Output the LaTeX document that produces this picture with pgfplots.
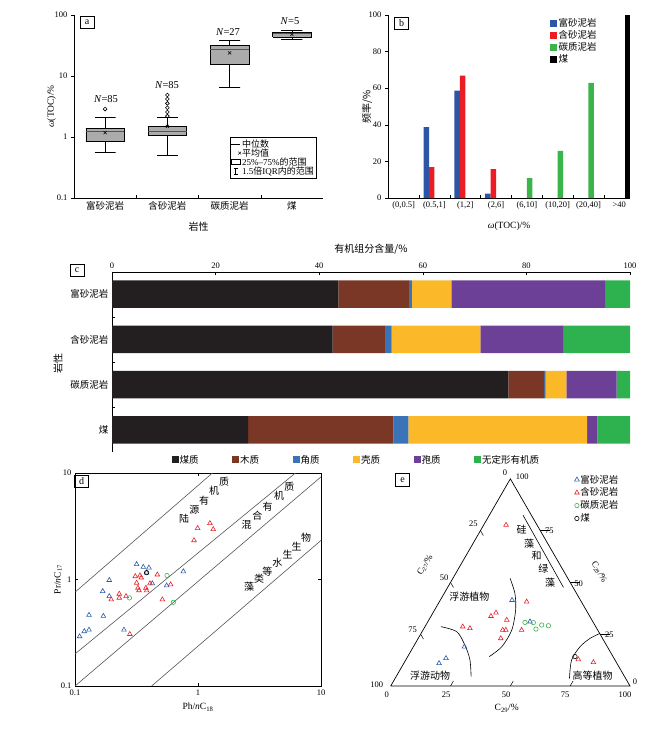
\documentclass[border=0pt]{standalone}
\usepackage{fontspec}
\setmainfont{Liberation Serif}
\newfontfamily\cjk{Noto Sans CJK SC}
\newcommand\zh[1]{{\cjk #1}}
\usepackage{pgfplots}
\pgfplotsset{compat=1.18}
\definecolor{cBlue}{HTML}{2D55A5}
\definecolor{cRed}{HTML}{EC1C24}
\definecolor{cGreen}{HTML}{3BB54A}
\definecolor{mBlack}{HTML}{231F20}
\definecolor{mBrown}{HTML}{7A3726}
\definecolor{mBlue}{HTML}{3B73B9}
\definecolor{mYellow}{HTML}{FBB829}
\definecolor{mPurple}{HTML}{6D4098}
\definecolor{mGreen}{HTML}{2EB24F}
\definecolor{boxGray}{HTML}{ABABAB}
\definecolor{lineGray}{HTML}{555555}
\definecolor{pBlue}{HTML}{2A5CAA}
\definecolor{pRed}{HTML}{E8212B}
\definecolor{pGreen}{HTML}{3DB54A}
\pgfplotsset{
  /pgf/number format/assume math mode=true,
  every axis/.append style={font=\fontsize{8.5}{10}\selectfont, scale only axis, anchor=south west},
  sqlegend/.style={legend image code/.code={\fill[##1] (0pt,-3.5pt) rectangle (7pt,3.5pt);}},
}
\begin{document}
\begin{tikzpicture}
\useasboundingbox (0pt,0pt) rectangle (650pt,-730pt);

% ================= Panel a =================
\begin{axis}[
  at={(74pt,-198pt)}, width=249pt, height=183pt,
  ymode=log, ymin=0.1, ymax=100, xmin=-0.5, xmax=3.5,
  axis lines=left, axis line style={-, line width=0.6pt},
  ytick={0.1,1,10,100}, yticklabels={0.1,1,10,100}, yminorticks=false,
  xtick={0.5,1.5,2.5}, xticklabels={},
  extra x ticks={0,1,2,3},
  extra x tick labels={\zh{富砂泥岩},\zh{含砂泥岩},\zh{碳质泥岩},\zh{煤}},
  extra x tick style={major tick length=0pt, xticklabel style={font=\fontsize{9.5}{11}\selectfont}},
  tick align=outside, major tick length=3pt, tick style={black, line width=0.5pt},
  x tick style={yshift=3pt},
  xlabel={\zh{岩性}}, xlabel style={at={(axis description cs:0.5,-0.158)}, anchor=center, font=\fontsize{10}{12}\selectfont},
  ylabel={\textit{ω}(TOC)/\%}, ylabel style={at={(axis description cs:-0.09,0.5)}, anchor=center, font=\fontsize{9.5}{11}\selectfont},
  legend style={at={(0.972,0.109)}, anchor=south east, draw=black, fill=white, font=\fontsize{9}{10}\selectfont, inner sep=1pt, row sep=-2pt, nodes={inner sep=1pt}},
  legend cell align=left,
]
\addlegendimage{legend image code/.code={\draw[black,line width=0.8pt] (0pt,0pt) -- (9pt,0pt);}}
\addlegendentry{\zh{中位数}}
\addlegendimage{only marks, mark=x, mark size=2pt, black}
\addlegendentry{\zh{平均值}}
\addlegendimage{legend image code/.code={\draw[black,fill=white,line width=0.5pt] (0pt,-2.5pt) rectangle (9pt,2.5pt);}}
\addlegendentry{25\%–75\%\zh{的范围}}
\addlegendimage{legend image code/.code={\draw[black,line width=0.5pt] (4.5pt,-3pt) -- (4.5pt,3pt) (2.5pt,-3pt) -- (6.5pt,-3pt) (2.5pt,3pt) -- (6.5pt,3pt);}}
\addlegendentry{1.5\zh{倍}IQR\zh{内的范围}}
% boxes
\addplot[forget plot, fill=boxGray, draw=black, line width=0.5pt] coordinates {(-0.31,0.85) (0.31,0.85) (0.31,1.40) (-0.31,1.40) (-0.31,0.85)};
\addplot[forget plot, fill=boxGray, draw=black, line width=0.5pt] coordinates {(0.69,1.06) (1.31,1.06) (1.31,1.50) (0.69,1.50) (0.69,1.06)};
\addplot[forget plot, fill=boxGray, draw=black, line width=0.5pt] coordinates {(1.69,15.7) (2.31,15.7) (2.31,31.6) (1.69,31.6) (1.69,15.7)};
\addplot[forget plot, fill=boxGray, draw=black, line width=0.5pt] coordinates {(2.69,43.3) (3.31,43.3) (3.31,52) (2.69,52) (2.69,43.3)};
% medians
\addplot[forget plot, lineGray, line width=0.8pt] coordinates {(-0.31,1.24) (0.31,1.24)};
\addplot[forget plot, lineGray, line width=0.8pt] coordinates {(0.69,1.22) (1.31,1.22)};
\addplot[forget plot, lineGray, line width=0.8pt] coordinates {(1.69,27.5) (2.31,27.5)};
\addplot[forget plot, lineGray, line width=0.8pt] coordinates {(2.69,50) (3.31,50)};
% whiskers
\addplot[forget plot, black, line width=0.5pt] coordinates {(-0.17,2.1) (0.17,2.1) (0,2.1) (0,1.40)};
\addplot[forget plot, black, line width=0.5pt] coordinates {(-0.17,0.56) (0.17,0.56) (0,0.56) (0,0.85)};
\addplot[forget plot, black, line width=0.5pt] coordinates {(0.83,2.1) (1.17,2.1) (1,2.1) (1,1.50)};
\addplot[forget plot, black, line width=0.5pt] coordinates {(0.83,0.51) (1.17,0.51) (1,0.51) (1,1.06)};
\addplot[forget plot, black, line width=0.5pt] coordinates {(1.83,38) (2.17,38) (2,38) (2,31.6)};
\addplot[forget plot, black, line width=0.5pt] coordinates {(1.83,6.5) (2.17,6.5) (2,6.5) (2,15.7)};
\addplot[forget plot, black, line width=0.5pt] coordinates {(2.83,57) (3.17,57) (3,57) (3,52)};
\addplot[forget plot, black, line width=0.5pt] coordinates {(2.83,40.7) (3.17,40.7) (3,40.7) (3,43.3)};
% means
\addplot[forget plot, only marks, mark=x, mark size=2.2pt, black, line width=0.6pt] coordinates {(0,1.18) (1,1.49) (2,24) (3,48)};
% outliers
\addplot[forget plot, only marks, mark=o, mark size=1.9pt, black, line width=0.6pt, mark options={fill=white}] coordinates {(0,2.87) (1,2.2) (1,2.57) (1,3.02) (1,3.56) (1,4.2) (1,4.89)};
\end{axis}
\node[draw, line width=0.6pt, inner sep=0pt, minimum width=14pt, minimum height=12pt, font=\fontsize{10}{12}\selectfont] at (87pt,-22.5pt) {a};
\begin{scope}[every node/.style={font=\fontsize{10.5}{12}\selectfont}]
\node at (106pt,-99pt) {\textit{N}=85};
\node at (167pt,-85pt) {\textit{N}=85};
\node at (228pt,-32pt) {\textit{N}=27};
\node at (290pt,-21pt) {\textit{N}=5};
\end{scope}

% ================= Panel b =================
\begin{axis}[
  at={(388pt,-198pt)}, width=242pt, height=183pt,
  xmin=-0.51, xmax=7.35, ymin=0, ymax=100,
  axis lines=left, axis line style={-, line width=0.6pt},
  ytick={0,20,40,60,80,100},
  xtick={0.5,1.5,...,6.5}, xticklabels={},
  extra x ticks={0,1,...,7},
  extra x tick labels={{(0,0.5]},{(0.5,1]},{(1,2]},{(2,6]},{(6,10]},{(10,20]},{(20,40]},{>40}},
  extra x tick style={major tick length=0pt},
  tick align=outside, major tick length=3pt, tick style={black, line width=0.5pt},
  x tick style={yshift=3pt},
  xlabel={\textit{ω}(TOC)/\%}, xlabel style={at={(axis description cs:0.5,-0.153)}, anchor=center, font=\fontsize{9.5}{11}\selectfont},
  ylabel={\zh{频率/\%}}, ylabel style={at={(axis description cs:-0.087,0.5)}, anchor=center, font=\fontsize{10}{12}\selectfont},
  legend style={at={(0.658,0.998)}, anchor=north west, draw=none, fill=none, row sep=0pt, nodes={inner sep=1.2pt}, font=\fontsize{9.5}{11}\selectfont},
  legend cell align=left,
]
\addplot[ybar, bar width=0.178, bar shift=0pt, fill=cBlue, draw=none, sqlegend] coordinates {(0.733,38.7) (1.733,58.7) (2.733,2.4)};
\addlegendentry{\zh{富砂泥岩}}
\addplot[ybar, bar width=0.178, bar shift=0pt, fill=cRed, draw=none, sqlegend] coordinates {(0.911,16.9) (1.911,66.9) (2.911,15.8)};
\addlegendentry{\zh{含砂泥岩}}
\addplot[ybar, bar width=0.178, bar shift=0pt, fill=cGreen, draw=none, sqlegend] coordinates {(4.089,10.9) (5.089,25.8) (6.089,62.9)};
\addlegendentry{\zh{碳质泥岩}}
\addplot[ybar, bar width=0.178, bar shift=0pt, fill=black, draw=none, sqlegend] coordinates {(7.267,100)};
\addlegendentry{\zh{煤}}
\end{axis}
\node[draw, line width=0.6pt, inner sep=0pt, minimum width=14pt, minimum height=12pt, font=\fontsize{10}{12}\selectfont] at (401.7pt,-23.3pt) {b};

% ================= Panel c =================
\begin{axis}[
  at={(112pt,-452pt)}, width=518pt, height=180pt,
  xbar stacked, bar width=0.61,
  xmin=0, xmax=100, ymin=-0.49, ymax=3.49,
  axis x line*=top, axis y line*=left, axis line style={-, line width=0.6pt},
  xtick={0,20,40,60,80,100},
  ytick={0.5,1.5,2.5}, yticklabels={},
  extra y ticks={0,1,2,3},
  extra y tick labels={\zh{煤},\zh{碳质泥岩},\zh{含砂泥岩},\zh{富砂泥岩}},
  extra y tick style={major tick length=0pt, yticklabel style={font=\fontsize{9.5}{11}\selectfont}},
  tick align=inside, major tick length=3pt, tick style={black, line width=0.5pt},
  xlabel={\zh{有机组分含量/\%}}, xlabel style={at={(axis description cs:0.5,1.128)}, anchor=center, font=\fontsize{10}{12}\selectfont},
  ylabel={\zh{岩性}}, ylabel style={at={(axis description cs:-0.104,0.494)}, anchor=center, font=\fontsize{10}{12}\selectfont},
  legend columns=6,
  legend style={at={(0.109,0.0)}, anchor=north west, draw=none, fill=none, /tikz/every even column/.append style={column sep=32.5pt}, nodes={inner sep=1pt}, font=\fontsize{9.5}{11}\selectfont},
]
\addplot[fill=mBlack, draw=none, sqlegend] coordinates {(43.7,3) (42.6,2) (76.5,1) (26.3,0)};
\addlegendentry{\zh{煤质}}
\addplot[fill=mBrown, draw=none, sqlegend] coordinates {(13.6,3) (10.1,2) (6.9,1) (28.0,0)};
\addlegendentry{\zh{木质}}
\addplot[fill=mBlue, draw=none, sqlegend] coordinates {(0.6,3) (1.3,2) (0.3,1) (2.9,0)};
\addlegendentry{\zh{角质}}
\addplot[fill=mYellow, draw=none, sqlegend] coordinates {(7.6,3) (17.1,2) (4.0,1) (34.5,0)};
\addlegendentry{\zh{壳质}}
\addplot[fill=mPurple, draw=none, sqlegend] coordinates {(29.7,3) (16.0,2) (9.7,1) (2.0,0)};
\addlegendentry{\zh{孢质}}
\addplot[fill=mGreen, draw=none, sqlegend] coordinates {(4.8,3) (12.9,2) (2.6,1) (6.3,0)};
\addlegendentry{\zh{无定形有机质}}
\end{axis}
\node[draw, line width=0.6pt, inner sep=0pt, minimum width=14pt, minimum height=12pt, font=\fontsize{10}{12}\selectfont] at (77pt,-270pt) {c};

% ================= Panel d =================
\begin{axis}[
  at={(75pt,-686pt)}, width=246pt, height=213pt,
  xmode=log, ymode=log, xmin=0.1, xmax=10, ymin=0.1, ymax=10,
  xtick={0.1,1,10}, xticklabels={0.1,1,10}, ytick={0.1,1,10}, yticklabels={0.1,1,10},
  xminorticks=false, yminorticks=false,
  axis line style={line width=0.6pt}, tick align=inside, major tick length=3pt, tick style={black, line width=0.5pt},
  xlabel={Ph/\textit{n}C\textsubscript{18}}, xlabel style={at={(axis description cs:0.5,-0.099)}, anchor=center, font=\fontsize{9.5}{11}\selectfont},
  ylabel={Pr/\textit{n}C\textsubscript{17}}, ylabel style={at={(axis description cs:-0.069,0.5)}, anchor=center, font=\fontsize{9.5}{11}\selectfont},
]
\addplot[lineGray, line width=0.6pt] coordinates {(0.1,0.76) (1.31,10)};
\addplot[lineGray, line width=0.6pt] coordinates {(0.1,0.2) (6.2,10)};
\addplot[lineGray, line width=0.6pt] coordinates {(0.1,0.1) (10,9.2)};
\addplot[lineGray, line width=0.6pt] coordinates {(0.42,0.1) (10,2.33)};
\addplot[only marks, mark=triangle, mark size=2.7pt, pBlue, line width=0.6pt] coordinates {
(0.109,0.292) (0.119,0.326) (0.130,0.337) (0.130,0.464) (0.170,0.454) (0.250,0.337)
(0.168,0.776) (0.190,0.986) (0.190,0.696) (0.317,1.39) (0.359,1.31) (0.399,1.29)
(0.382,1.16) (0.425,0.917) (0.556,0.877) (0.760,1.19)};
\addplot[only marks, mark=triangle, mark size=2.7pt, pRed, line width=0.6pt] coordinates {
(0.197,0.648) (0.229,0.733) (0.229,0.672) (0.260,0.696) (0.309,1.07) (0.337,1.09)
(0.346,1.04) (0.317,0.93) (0.325,0.834) (0.331,0.79) (0.377,0.834) (0.382,0.787)
(0.407,0.917) (0.467,1.11) (0.599,0.897) (0.513,0.648) (0.279,0.307)
(0.928,2.33) (0.994,3.03) (1.25,3.37) (1.33,2.96)};
\addplot[only marks, mark=o, mark size=2.2pt, pGreen, line width=0.6pt] coordinates {(0.277,0.672) (0.56,1.09) (0.63,0.611)};
\addplot[only marks, mark=o, mark size=2.2pt, black, line width=0.6pt] coordinates {(0.382,1.16)};
\end{axis}
\node[draw, line width=0.6pt, inner sep=0pt, minimum width=14pt, minimum height=12pt, font=\fontsize{10}{12}\selectfont] at (81.7pt,-481pt) {d};
\begin{scope}[every node/.style={font=\cjk\fontsize{10}{12}\selectfont, inner sep=0pt}]
\node at (184pt,-519pt) {陆};
\node at (194.3pt,-510pt) {源};
\node at (204pt,-500.7pt) {有};
\node at (214pt,-491pt) {机};
\node at (224pt,-481.7pt) {质};
\node at (246.7pt,-525pt) {混};
\node at (257.3pt,-516pt) {合};
\node at (267.7pt,-506.7pt) {有};
\node at (279pt,-495.7pt) {机};
\node at (289.3pt,-486.7pt) {质};
\node at (249pt,-586.7pt) {藻};
\node at (259pt,-578.3pt) {类};
\node at (267.3pt,-571.7pt) {等};
\node at (277.3pt,-562.3pt) {水};
\node at (287.7pt,-555pt) {生};
\node at (296.7pt,-546.7pt) {生};
\node at (306pt,-537.3pt) {物};
\end{scope}

% ================= Panel e =================
\begin{axis}[
  at={(390.7pt,-686pt)}, width=239.3pt, height=207.2pt,
  xmin=0, xmax=100, ymin=0, ymax=86.6, hide axis, clip=false,
  legend style={at={(0.755,1.035)}, anchor=north west, draw=none, fill=none, row sep=1pt, nodes={inner sep=1.2pt}, font=\fontsize{9.5}{11}\selectfont},
  legend cell align=left,
]
\addplot[only marks, mark=triangle, mark size=2.7pt, pBlue, line width=0.6pt] coordinates {
(50.7,35.9) (58.2,26.9) (30.8,16.4) (23.1,11.6) (20.2,9.5)};
\addlegendentry{\zh{富砂泥岩}}
\addplot[only marks, mark=triangle, mark size=2.7pt, pRed, line width=0.6pt] coordinates {
(48.2,67.3) (56.8,35.2) (44.0,30.6) (41.9,29.2) (48.5,27.6) (46.8,23.4) (48.1,23.4)
(46.0,19.9) (54.7,23.4) (30.1,24.8) (33.1,24.1) (78.4,11.1) (84.7,9.9)};
\addlegendentry{\zh{含砂泥岩}}
\addplot[only marks, mark=o, mark size=2.2pt, pGreen, line width=0.6pt] coordinates {
(56.1,26.6) (59.6,26.5) (60.7,23.8) (63.1,25.5) (65.9,25.2)};
\addlegendentry{\zh{碳质泥岩}}
\addplot[only marks, mark=o, mark size=2.2pt, black, line width=0.6pt] coordinates {(77.0,12.3)};
\addlegendentry{\zh{煤}}
\addplot[forget plot, black, line width=0.7pt] coordinates {(0,0) (100,0) (50,86.6) (0,0)};
\addplot[forget plot, black, line width=0.6pt, smooth] coordinates {(21.0,24.8) (27.6,22.7) (31.0,17.1) (33.1,11.0) (33.6,3.9)};
\addplot[forget plot, black, line width=0.6pt, smooth] coordinates {(49.9,45.0) (51.9,38.7) (52.2,31.8) (50.6,23.4) (46.4,16.4) (41.2,12.3)};
\addplot[forget plot, black, line width=0.6pt, smooth] coordinates {(74.7,3.2) (75.6,10.9) (79.1,16.4) (83.3,19.9) (87.5,22.0)};
\addplot[forget plot, black, line width=0.6pt] coordinates {(55.3,71.4) (72.2,41.2)};
\draw[black, line width=0.5pt] (axis cs:87.5,21.65) -- (axis cs:91.5,21.65);
\draw[black, line width=0.5pt] (axis cs:75,43.3) -- (axis cs:79,43.3);
\draw[black, line width=0.5pt] (axis cs:62.5,64.95) -- (axis cs:66.5,64.95);
\draw[black, line width=0.5pt] (axis cs:37.5,64.95) -- (axis cs:38.7,62.9);
\draw[black, line width=0.5pt] (axis cs:25,43.3) -- (axis cs:26.2,41.2);
\draw[black, line width=0.5pt] (axis cs:12.5,21.65) -- (axis cs:13.7,19.6);
\draw[black, line width=0.5pt] (axis cs:25,0) -- (axis cs:26.2,2.1);
\draw[black, line width=0.5pt] (axis cs:50,0) -- (axis cs:51.2,2.1);
\draw[black, line width=0.5pt] (axis cs:75,0) -- (axis cs:76.2,2.1);
\end{axis}
\node[draw, line width=0.6pt, inner sep=0pt, minimum width=14pt, minimum height=13pt, font=\fontsize{10}{12}\selectfont] at (402.5pt,-480pt) {e};
\begin{scope}[every node/.style={font=\fontsize{8.5}{10}\selectfont, inner sep=0pt}]
\node at (386.7pt,-695pt) {0};
\node at (446pt,-695pt) {25};
\node at (506pt,-695pt) {50};
\node at (565pt,-695pt) {75};
\node at (625pt,-695pt) {100};
\node at (473.3pt,-523.3pt) {25};
\node at (444pt,-577.5pt) {50};
\node at (412.7pt,-629.3pt) {75};
\node at (376.7pt,-685pt) {100};
\node at (505pt,-472.7pt) {0};
\node at (522.3pt,-476.7pt) {100};
\node at (549.3pt,-530.7pt) {75};
\node at (578.5pt,-583.5pt) {50};
\node at (609.3pt,-634.3pt) {25};
\node at (635pt,-681.7pt) {0};
\node[font=\fontsize{9.5}{11}\selectfont] at (506.7pt,-708.3pt) {C\textsubscript{29}/\%};
\node[font=\fontsize{9}{10}\selectfont, rotate=60] at (425pt,-565pt) {C\textsubscript{27}/\%};
\node[font=\fontsize{9}{10}\selectfont, rotate=-60] at (599pt,-572pt) {C\textsubscript{28}/\%};
\end{scope}
\begin{scope}[every node/.style={font=\cjk\fontsize{10}{12}\selectfont, inner sep=0pt}]
\node at (521.7pt,-530pt) {硅};
\node at (529pt,-543.3pt) {藻};
\node at (536.7pt,-556pt) {和};
\node at (543.3pt,-568.3pt) {绿};
\node at (550pt,-582.7pt) {藻};
\node at (469.3pt,-596.7pt) {浮游植物};
\node at (430pt,-676pt) {浮游动物};
\node at (592.7pt,-676pt) {高等植物};
\end{scope}
\end{tikzpicture}
\end{document}
